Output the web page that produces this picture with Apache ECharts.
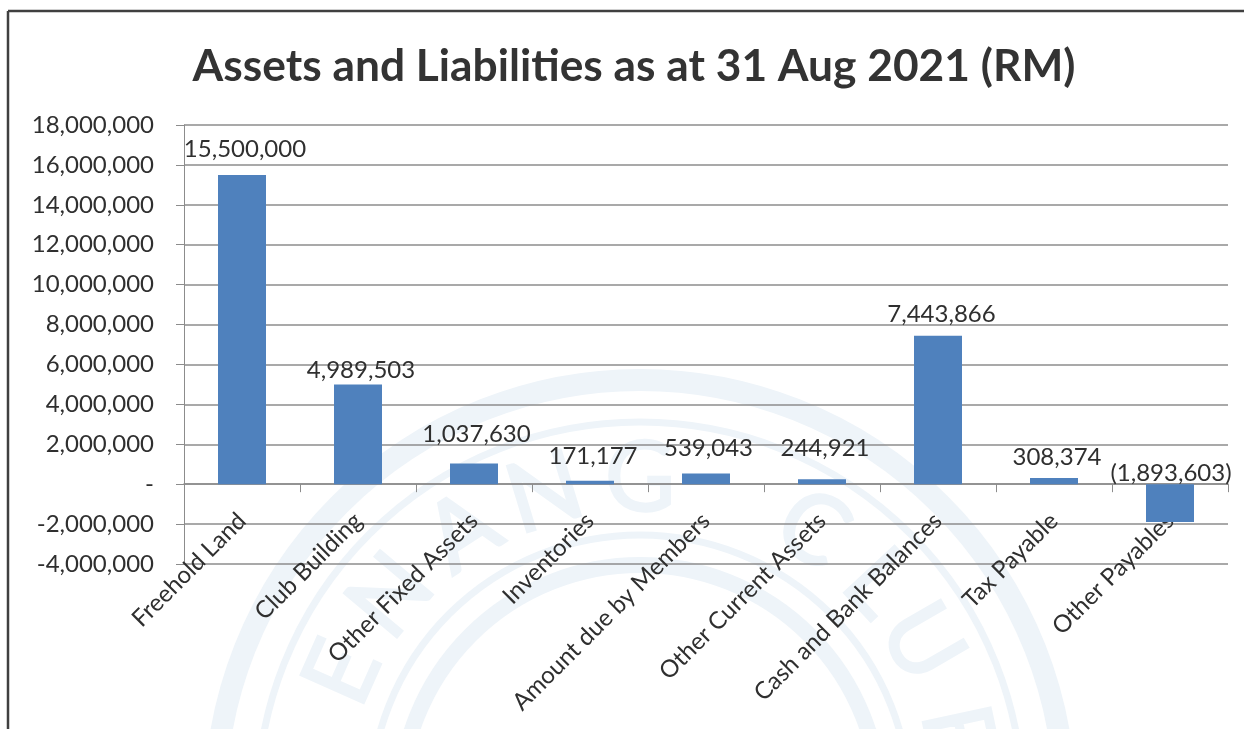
<!DOCTYPE html>
<html><head><meta charset="utf-8">
<style>html,body{margin:0;padding:0;background:#fff}#c{width:1244px;height:729px}</style>
<script src="https://cdn.jsdelivr.net/npm/echarts@6/dist/echarts.min.js"></script></head>
<body><div id="c"></div>
<script>
const categories=["Freehold Land","Club Building","Other Fixed Assets","Inventories","Amount due by Members","Other Current Assets","Cash and Bank Balances","Tax Payable","Other Payables"];
const values=[15500000,4989503,1037630,171177,539043,244921,7443866,308374,-1893603];
const labelGaps=[14,2,17,13,13,19,9,9,-1];
const labelShifts=[3,3,2.5,3,2.5,3,3.5,3,1];
const crest=[["P",-82],["E",-66],["N",-50],["A",-33],["N",-17],["G",0],["C",32],["L",47],["U",60],["B",78]];
const money=v=>v<0?'('+Math.abs(v).toLocaleString('en-US')+')':v.toLocaleString('en-US');
const tick=v=>v===0?'-':v.toLocaleString('en-US');
const wm='#eef4f9', ink='#2f2f2f', grid='#8c8c8c';
const ring=(r,w)=>({type:'circle',silent:true,z:-10,shape:{cx:640,cy:805,r:r},style:{fill:'none',stroke:wm,lineWidth:w}});
const c=echarts.init(document.getElementById('c'),null,{renderer:'canvas'});
const letters=crest.map(([t,a])=>{const r=a*Math.PI/180;return {type:'text',silent:true,z:-10,x:640+325*Math.sin(r),y:805-325*Math.cos(r),rotation:-r,
  style:{text:t,fill:wm,stroke:wm,lineWidth:2.5,font:'normal 96px Lato',align:'center',verticalAlign:'middle'}}});
c.setOption({animation:false,backgroundColor:'#fff',
 textStyle:{fontFamily:'Lato'},
 title:{text:'Assets and Liabilities as at 31 Aug 2021 (RM)',left:629,top:40,textAlign:'center',textStyle:{fontFamily:'Lato',fontSize:44.3,fontWeight:'bold',color:'#333333'}},
 grid:{left:184,right:16,top:125,height:439,containLabel:false,outerBoundsMode:'none'},
 xAxis:{type:'category',data:categories,axisTick:{show:true,alignWithLabel:false,length:8,lineStyle:{color:grid}},axisLine:{onZero:true,lineStyle:{color:grid,width:1.5}},
  axisLabel:{interval:0,rotate:45,fontSize:24,color:ink,margin:-47,fontFamily:'Lato',hideOverlap:false},splitLine:{show:false}},
 yAxis:{type:'value',min:-4000000,max:18000000,interval:2000000,axisTick:{show:true,length:8,lineStyle:{color:grid}},axisLine:{show:true,onZero:false,lineStyle:{color:grid}},
  splitLine:{show:true,lineStyle:{color:grid,width:1.5}},axisLabel:{fontSize:24,color:ink,margin:30,fontFamily:'Lato',formatter:tick}},
 series:[{type:'bar',barWidth:48,itemStyle:{color:'#4f81bd'},
  data:values.map((v,i)=>({value:v,label:{distance:labelGaps[i],offset:[labelShifts[i],0]}})),
  label:{show:true,position:'top',fontSize:24,color:ink,fontFamily:'Lato',formatter:p=>money(p.value)}}],
 graphic:[
  ring(425,22),ring(383,7),ring(270,7),ring(240,16),...letters,
  {type:'line',silent:true,shape:{x1:8,y1:11,x2:8,y2:729},style:{stroke:'#404040',lineWidth:2.5}},
  {type:'line',silent:true,shape:{x1:8,y1:11,x2:1244,y2:11},style:{stroke:'#404040',lineWidth:2.5}}
 ]});
</script></body></html>
